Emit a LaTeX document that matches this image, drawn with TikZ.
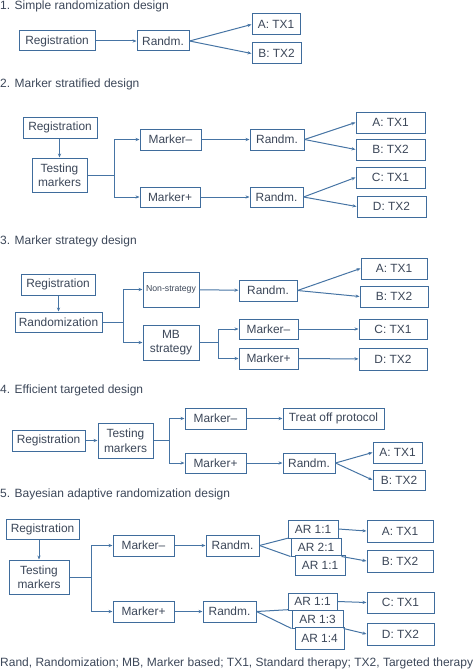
\documentclass[tikz,border=0pt]{standalone}
\usepackage{fontspec}
\setmainfont{Liberation Sans}
\usetikzlibrary{arrows.meta,backgrounds}
\definecolor{boxblue}{HTML}{3F6C9C}
\definecolor{lineblue}{HTML}{4674A4}
\definecolor{txtgray}{HTML}{3C4759}
\begin{document}
\begin{tikzpicture}[x=1pt, y=-1pt,
    box/.style={draw=boxblue, line width=1pt, fill=white, text=txtgray, inner sep=0pt,
      align=center, font=\fontsize{11.9}{14.5}\selectfont},
    title/.style={anchor=base west, inner sep=0pt, text=txtgray, font=\fontsize{12}{14}\selectfont},
    arr/.style={draw=lineblue, line width=1pt, -{Stealth[length=4pt,width=3.2pt]}},
    fan/.style={draw=lineblue, line width=1pt}]
  \useasboundingbox (0,0) rectangle (474,669);

  % 1
  \node[title] (t1) at (0,10) {1. Simple randomization design};
  \node[box, minimum width=76, minimum height=20] (reg1) at (57,41) {Registration};
  \node[box, minimum width=52, minimum height=20] (rand1) at (163,41) {Randm.};
  \node[box, minimum width=48, minimum height=21] (a1) at (276,24.5) {A: TX1};
  \node[box, minimum width=49, minimum height=21] (b1) at (276.5,53.5) {B: TX2};
  \draw[arr] (reg1) -- (rand1);
  \draw[arr] (rand1.east) -- (a1.west);
  \draw[arr] (rand1.east) -- (b1.west);

  % 2
  \node[title] (t2) at (0,88) {2. Marker stratified design};
  \node[box, minimum width=74, minimum height=21] (reg2) at (60,127.5) {Registration};
  \node[box, minimum width=55, minimum height=34] (test2) at (59.5,175) {Testing\\markers};
  \node[box, minimum width=61, minimum height=21] (mneg2) at (170.5,139.5) {Marker--};
  \node[box, minimum width=60, minimum height=20] (mpos2) at (170,197) {Marker+};
  \node[box, minimum width=54, minimum height=21] (rand2a) at (277,139.5) {Randm.};
  \node[box, minimum width=53, minimum height=20] (rand2b) at (276.5,197) {Randm.};
  \node[box, minimum width=69, minimum height=21] (a2) at (390.5,122.5) {A: TX1};
  \node[box, minimum width=69, minimum height=21] (b2) at (390.5,149.5) {B: TX2};
  \node[box, minimum width=69, minimum height=21] (c2) at (390.5,177.5) {C: TX1};
  \node[box, minimum width=69, minimum height=21] (d2) at (391.5,206.5) {D: TX2};
  \coordinate (j2) at (114,175);
  \draw[arr] (reg2.south -| test2.north) -- (test2.north);
  \draw[fan] (test2.east) -- (j2);
  \draw[arr] (j2) |- (mneg2.west);
  \draw[arr] (j2) |- (mpos2.west);
  \draw[arr] (mneg2) -- (rand2a);
  \draw[arr] (mpos2) -- (rand2b);
  \draw[arr] (rand2a.east) -- (a2.west);
  \draw[arr] (rand2a.east) -- (b2.west);
  \draw[arr] (rand2b.east) -- (c2.west);
  \draw[arr] (rand2b.east) -- (d2.west);

  % 3
  \node[title] (t3) at (0,244) {3. Marker strategy design};
  \node[box, minimum width=74, minimum height=21] (reg3) at (58,284.5) {Registration};
  \node[box, minimum width=87, minimum height=20] (rz3) at (58.5,322) {Randomization};
  \node[box, minimum width=56, minimum height=35, font=\fontsize{8.7}{10}\selectfont] (nons3) at (171,289.5) {Non-strategy};
  \node[box, minimum width=56, minimum height=35] (mb3) at (171,342.5) {MB\\strategy};
  \node[box, minimum width=58, minimum height=21] (rand3) at (268,290.5) {Randm.};
  \node[box, minimum width=66, minimum height=21] (a3) at (394,268.5) {A: TX1};
  \node[box, minimum width=68, minimum height=21] (b3) at (394,296.5) {B: TX2};
  \node[box, minimum width=59, minimum height=20] (mneg3) at (268.5,329) {Marker--};
  \node[box, minimum width=59, minimum height=21] (mpos3) at (268.5,358.5) {Marker+};
  \node[box, minimum width=68, minimum height=20] (c3) at (393,329) {C: TX1};
  \node[box, minimum width=68, minimum height=22] (d3) at (393,359) {D: TX2};
  \coordinate (j3) at (123,322);
  \coordinate (k3) at (218,342.5);
  \draw[arr] (reg3.south -| rz3.north) -- (rz3.north);
  \draw[fan] (rz3.east) -- (j3);
  \draw[arr] (j3) |- (nons3.west);
  \draw[arr] (j3) |- (mb3.west);
  \draw[arr] (nons3) -- (rand3);
  \draw[arr] (rand3.east) -- (a3.west);
  \draw[arr] (rand3.east) -- (b3.west);
  \draw[fan] (mb3.east) -- (k3);
  \draw[arr] (k3) |- (mneg3.west);
  \draw[arr] (k3) |- (mpos3.west);
  \draw[arr] (mneg3) -- (c3);
  \draw[arr] (mpos3) -- (d3);

  % 4
  \node[title] (t4) at (0,393) {4. Efficient targeted design};
  \node[box, minimum width=73, minimum height=21] (reg4) at (48.5,440.5) {Registration};
  \node[box, minimum width=55, minimum height=35] (test4) at (125.5,440.5) {Testing\\markers};
  \node[box, minimum width=61, minimum height=21] (mneg4) at (215.5,418.5) {Marker--};
  \node[box, minimum width=61, minimum height=20] (mpos4) at (215.5,463) {Marker+};
  \node[box, minimum width=101, minimum height=21] (treat4) at (333.5,418.5) {Treat off protocol};
  \node[box, minimum width=52, minimum height=20] (rand4) at (309,463) {Randm.};
  \node[box, minimum width=49, minimum height=21] (a4) at (397.5,452.5) {A: TX1};
  \node[box, minimum width=52, minimum height=20] (b4) at (399,480) {B: TX2};
  \coordinate (j4) at (169,440.5);
  \draw[arr] (reg4) -- (test4);
  \draw[fan] (test4.east) -- (j4);
  \draw[arr] (j4) |- (mneg4.west);
  \draw[arr] (j4) |- (mpos4.west);
  \draw[arr] (mneg4) -- (treat4);
  \draw[arr] (mpos4) -- (rand4);
  \draw[arr] (rand4.east) -- (a4.west);
  \draw[arr] (rand4.east) -- (b4.west);

  % 5
  \node[title] (t5) at (0,497) {5. Bayesian adaptive randomization design};
  \node[box, minimum width=73, minimum height=20] (reg5) at (42.5,529) {Registration};
  \node[box, minimum width=60, minimum height=34] (test5) at (39,577) {Testing\\markers};
  \node[box, minimum width=61, minimum height=21] (mneg5) at (143.5,545.5) {Marker--};
  \node[box, minimum width=61, minimum height=21] (mpos5) at (143.5,611.5) {Marker+};
  \node[box, minimum width=53, minimum height=21] (rand5a) at (232.5,545.5) {Randm.};
  \node[box, minimum width=53, minimum height=21] (rand5b) at (229.5,611.5) {Randm.};
  \node[box, minimum width=50, minimum height=18] (ar5a) at (313,529) {AR 1:1};
  \node[box, minimum width=50, minimum height=18] (ar5b) at (316,547) {AR 2:1};
  \node[box, minimum width=50, minimum height=20] (ar5c) at (320,565) {AR 1:1};
  \node[box, minimum width=49, minimum height=17] (ar5d) at (312.5,601.5) {AR 1:1};
  \node[box, minimum width=51, minimum height=18] (ar5e) at (317.5,619) {AR 1:3};
  \node[box, minimum width=49, minimum height=22] (ar5f) at (319.5,638) {AR 1:4};
  \node[box, minimum width=66, minimum height=22] (a5) at (400,531) {A: TX1};
  \node[box, minimum width=66, minimum height=22] (b5) at (400,561) {B: TX2};
  \node[box, minimum width=67, minimum height=21] (c5) at (400.5,602.5) {C: TX1};
  \node[box, minimum width=67, minimum height=22] (d5) at (400.5,634) {D: TX2};
  \coordinate (j5) at (91,577);
  \draw[arr] (reg5.south -| test5.north) -- (test5.north);
  \draw[fan] (test5.east) -- (j5);
  \draw[arr] (j5) |- (mneg5.west);
  \draw[arr] (j5) |- (mpos5.west);
  \draw[arr] (mneg5) -- (rand5a);
  \draw[arr] (mpos5) -- (rand5b);
  \begin{scope}[on background layer]
    \draw[fan] (rand5a.east) -- (ar5b.north west);
    \draw[fan] (rand5a.east) -- (ar5b.south west);
    \draw[fan] (rand5b.east) -- (ar5e.north west);
    \draw[fan] (rand5b.east) -- (ar5e.south west);
  \end{scope}
  \draw[arr] (ar5a.east) -- (a5.west);
  \draw[arr] (ar5b.south east) -- (b5.west);
  \draw[arr] (ar5d.east) -- (c5.west);
  \draw[arr] (ar5e.south east) -- (d5.west);

  \node[title] (note) at (0,666) {Rand, Randomization; MB, Marker based; TX1, Standard therapy; TX2, Targeted therapy};
\end{tikzpicture}
\end{document}
